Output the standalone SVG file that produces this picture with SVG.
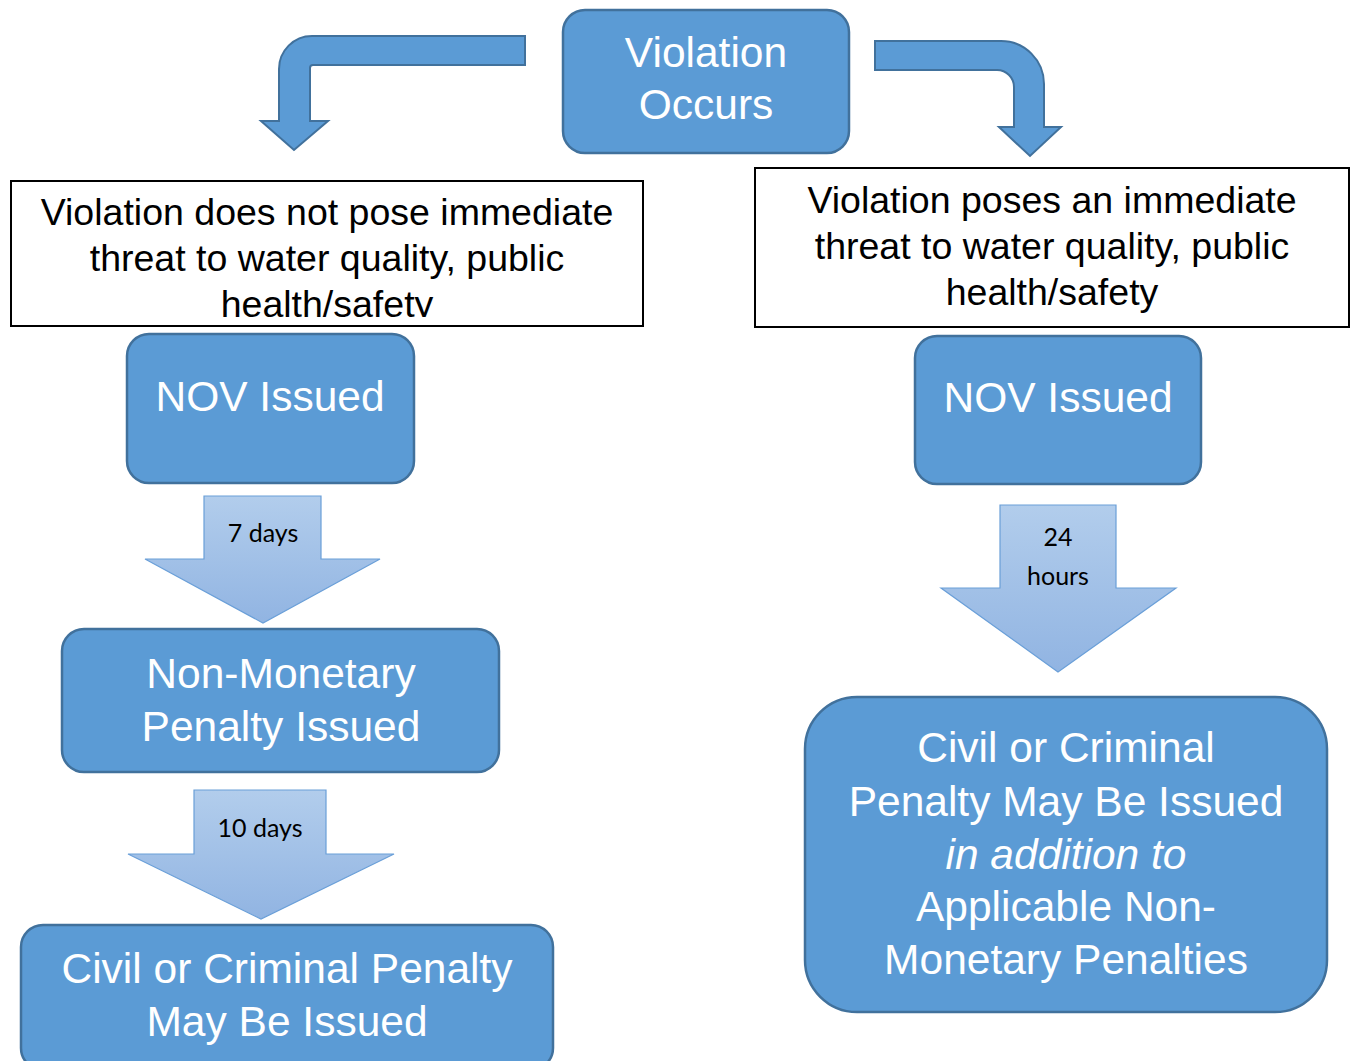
<svg xmlns="http://www.w3.org/2000/svg" width="1356" height="1061" viewBox="0 0 1356 1061">
<defs>
<linearGradient id="g" x1="0" y1="0" x2="0" y2="1">
<stop offset="0" stop-color="#B2CDEC"/>
<stop offset="1" stop-color="#91B4E2"/>
</linearGradient>
<clipPath id="clipL"><rect x="12" y="182" width="630" height="135"/></clipPath>
</defs>
<style>
.box{fill:#5B9BD5;stroke:#41719C;stroke-width:2.5}
.wbox{fill:#FFFFFF;stroke:#000000;stroke-width:2}
.bent{fill:#5B9BD5;stroke:#41719C;stroke-width:2}
.down{fill:url(#g);stroke:#6A9FD8;stroke-width:1.2}
.wt{font-family:"Liberation Sans",Arial,sans-serif;font-size:42.5px;fill:#FFFFFF;text-anchor:middle}
.bt{font-family:"Liberation Sans",Arial,sans-serif;font-size:37.5px;fill:#000000;text-anchor:middle}
.lbl{font-family:Lato,"Open Sans",sans-serif;font-size:25px;fill:#000000;text-anchor:middle}
</style>
<g id="connectors">
<path class="bent" d="M525,36 L312,36 A33,33 0 0 0 279,69 L279,121 L261,121 L294,150 L328,121 L310,121 L310,68 A3,3 0 0 1 313,65 L525,65 Z"/>
<path class="bent" d="M875,41 L1001,41 A43,43 0 0 1 1044,84 L1044,127 L1061,127 L1030,156 L999,127 L1014,127 L1014,87 A17,17 0 0 0 997,70 L875,70 Z"/>
<g id="arrow-7days">
<path class="down" d="M204,496 L321,496 L321,559 L380,559 L263,623 L145,559 L204,559 Z"/>
<text class="lbl" x="263" y="542">7 days</text>
</g>
<g id="arrow-10days">
<path class="down" d="M194,790 L326,790 L326,854 L394,854 L261,919 L128,854 L194,854 Z"/>
<text class="lbl" x="260" y="837">10 days</text>
</g>
<g id="arrow-24hours">
<path class="down" d="M1000,505 L1116,505 L1116,588 L1176,588 L1058,672 L941,588 L1000,588 Z"/>
<text class="lbl" x="1058" y="546">24</text>
<text class="lbl" x="1058" y="585">hours</text>
</g>
</g>
<g id="violation-occurs">
<rect class="box" x="563" y="10" width="286" height="143" rx="22"/>
<text class="wt" x="706" y="67">Violation</text>
<text class="wt" x="706" y="119">Occurs</text>
</g>
<g id="not-immediate">
<rect class="wbox" x="11" y="181" width="632" height="145"/>
<g clip-path="url(#clipL)">
<text class="bt" x="327" y="225">Violation does not pose immediate</text>
<text class="bt" x="327" y="271">threat to water quality, public</text>
<text class="bt" x="327" y="317">health/safety</text>
</g>
</g>
<g id="immediate">
<rect class="wbox" x="755" y="168" width="594" height="159"/>
<text class="bt" x="1052" y="213">Violation poses an immediate</text>
<text class="bt" x="1052" y="259">threat to water quality, public</text>
<text class="bt" x="1052" y="305">health/safety</text>
</g>
<g id="nov-left">
<rect class="box" x="127" y="334" width="287" height="149" rx="22"/>
<text class="wt" x="270" y="411">NOV Issued</text>
</g>
<g id="nov-right">
<rect class="box" x="915" y="336" width="286" height="148" rx="22"/>
<text class="wt" x="1058" y="412">NOV Issued</text>
</g>
<g id="non-monetary">
<rect class="box" x="62" y="629" width="437" height="143" rx="22"/>
<text class="wt" x="281" y="688">Non-Monetary</text>
<text class="wt" x="281" y="741">Penalty Issued</text>
</g>
<g id="civil-left">
<rect class="box" x="21" y="925" width="532" height="145" rx="22"/>
<text class="wt" x="287" y="983">Civil or Criminal Penalty</text>
<text class="wt" x="287" y="1036">May Be Issued</text>
</g>
<g id="civil-right">
<rect class="box" x="805" y="697" width="522" height="315" rx="52"/>
<text class="wt" x="1066" y="762">Civil or Criminal</text>
<text class="wt" x="1066" y="816">Penalty May Be Issued</text>
<text class="wt" x="1066" y="869" font-style="italic">in addition to</text>
<text class="wt" x="1066" y="921">Applicable Non-</text>
<text class="wt" x="1066" y="974">Monetary Penalties</text>
</g>
</svg>
